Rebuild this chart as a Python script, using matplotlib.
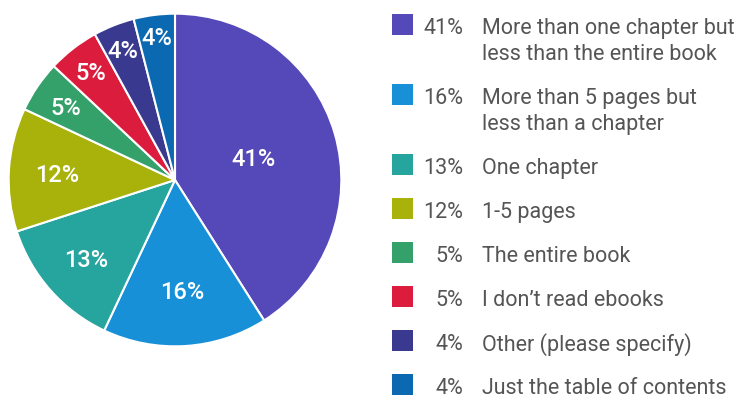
import matplotlib.pyplot as plt
from matplotlib.patches import Rectangle
import numpy as np

plt.rcParams['font.family'] = ['Roboto', 'DejaVu Sans']

# survey answers: how much of an ebook do you read
shares = [41, 16, 13, 12, 5, 5, 4, 4]
answers = [
    "More than one chapter but\nless than the entire book",
    "More than 5 pages but\nless than a chapter",
    "One chapter",
    "1-5 pages",
    "The entire book",
    "I don\u2019t read ebooks",
    "Other (please specify)",
    "Just the table of contents",
]
colors = ["#5548B8", "#1890D8", "#26A49E", "#A8B20A",
          "#34A06A", "#DC1C3C", "#3A3990", "#0A69B0"]
# how far out each slice label sits (fraction of radius)
label_r = [0.49, 0.66, 0.71, 0.71, 0.79, 0.83, 0.85, 0.87]

W, H = 736, 398
fig = plt.figure(figsize=(W / 100, H / 100), dpi=100)

# pie centred at (175, 180) px, radius 168 px
cx, cy, R = 175, 180, 168
ax = fig.add_axes([(cx - R) / W, (H - cy - R) / H, 2 * R / W, 2 * R / H])
wedges, _ = ax.pie(shares, colors=colors, startangle=90, counterclock=False,
                   radius=1, wedgeprops=dict(edgecolor="white", linewidth=1.5))
ax.set_xlim(-1.01, 1.01)
ax.set_ylim(-1.01, 1.01)
ax.set_aspect("equal")
ax.axis("off")

for w, val, r in zip(wedges, shares, label_r):
    mid = np.deg2rad((w.theta1 + w.theta2) / 2)
    ax.text(r * np.cos(mid), r * np.sin(mid), f"{val}%", color="white",
            fontsize=17, fontweight="medium", ha="center",
            va="center_baseline")

# hand-built legend: swatch, right-aligned percent, answer text
y = 26
for val, label, c in zip(shares, answers, colors):
    sq = 21
    fig.patches.append(Rectangle((392 / W, 1 - (y - 2 + sq / 2) / H), sq / W, sq / H,
                                 transform=fig.transFigure, facecolor=c,
                                 edgecolor="none"))
    fig.text(463 / W, 1 - y / H, f"{val}%", ha="right", va="center_baseline",
             fontsize=15.5, color="#555555")
    lines = label.split("\n")
    for k, line in enumerate(lines):
        fig.text(482 / W, 1 - (y + 26 * k) / H, line, ha="left",
                 va="center_baseline", fontsize=15.5, color="#555555")
    y += 26 * (len(lines) - 1) + 44

fig.savefig("out.png", dpi=100)
